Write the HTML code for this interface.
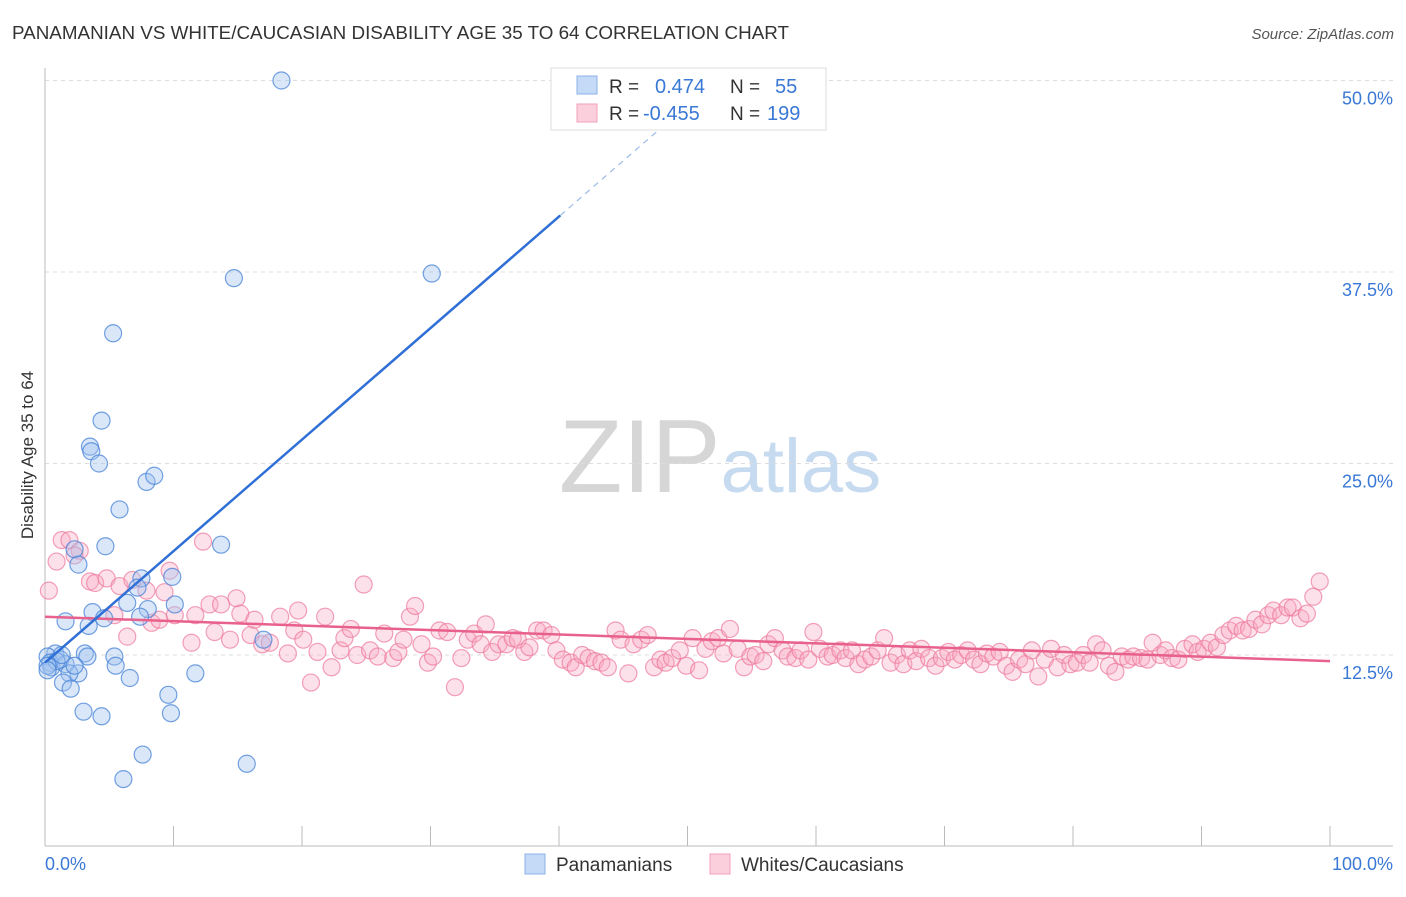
<!DOCTYPE html>
<html><head><meta charset="utf-8"><style>
body{margin:0;background:#fff;font-family:"Liberation Sans",sans-serif;}
svg text{font-family:"Liberation Sans",sans-serif;}
</style></head><body>
<svg id="chart" width="1406" height="892" viewBox="0 0 1406 892" xmlns="http://www.w3.org/2000/svg">
<text x="12" y="39" font-size="18" fill="#333" textLength="777" lengthAdjust="spacingAndGlyphs">PANAMANIAN VS WHITE/CAUCASIAN DISABILITY AGE 35 TO 64 CORRELATION CHART</text>
<text x="1394" y="39" font-size="15" fill="#555" text-anchor="end" font-style="italic">Source: ZipAtlas.com</text>
<text x="720" y="492" font-size="104" text-anchor="middle" fill="#ddd" font-family="Liberation Serif"><tspan fill="#d6d6d6">ZIP</tspan><tspan fill="#c6daf0" font-family="Liberation Sans" font-size="76">atlas</tspan></text>
<text transform="translate(33,455) rotate(-90)" font-size="17" fill="#333" text-anchor="middle">Disability Age 35 to 64</text>
<g id="grid"></g><g id="axes"></g><g id="marks"></g>
<g>
<rect x="551" y="68" width="275" height="62" fill="#fff" stroke="#ddd"/>
<rect x="577" y="76" width="20" height="18" fill="#c5daf6" stroke="#8bb0e8"/>
<text x="609" y="93" font-size="19" fill="#333">R =</text><text x="655" y="93" font-size="20" fill="#3a78d6">0.474</text>
<text x="730" y="93" font-size="19" fill="#333">N =</text><text x="775" y="93" font-size="20" fill="#3a78d6">55</text>
<rect x="577" y="104" width="20" height="18" fill="#fbcfdc" stroke="#f0a0b8"/>
<text x="609" y="120" font-size="19" fill="#333">R =</text><text x="643" y="120" font-size="20" fill="#3a78d6">-0.455</text>
<text x="730" y="120" font-size="19" fill="#333">N =</text><text x="767" y="120" font-size="20" fill="#3a78d6">199</text>
</g>
<g>
<rect x="525" y="854" width="20" height="20" fill="#c5daf6" stroke="#8bb0e8"/>
<text x="556" y="871" font-size="19" fill="#333">Panamanians</text>
<rect x="710" y="854" width="20" height="20" fill="#fbcfdc" stroke="#f0a0b8"/>
<text x="741" y="871" font-size="19" fill="#333">Whites/Caucasians</text>
</g>
</svg>
<script>
const blueX=[18.4,14.7,30.1,5.3,4.4,3.5,3.6,4.2,7.9,8.5,5.8,4.7,13.7,2.3,2.6,7.5,9.9,7.2,6.4,8.0,3.7,1.6,3.4,4.6,7.4,10.1,17.0,3.1,3.3,0.8,0.2,0.4,1.2,0.5,1.6,2.6,1.9,1.4,2.0,5.4,5.5,6.6,11.7,9.6,9.8,3.0,4.4,7.6,15.7,6.1,0.9,1.3,0.2,2.3,0.2];
const blueY=[50.0,37.1,37.4,33.5,27.8,26.1,25.8,25.0,23.8,24.2,22.0,19.6,19.7,19.4,18.4,17.5,17.6,16.9,15.9,15.5,15.3,14.7,14.4,14.9,15.0,15.8,13.5,12.6,12.4,12.6,12.4,12.0,12.2,11.7,11.9,11.3,11.3,10.7,10.3,12.4,11.8,11.0,11.3,9.9,8.7,8.8,8.5,6.0,5.4,4.4,12.1,12.5,11.8,11.8,11.5];
const pinkX=[0.3,0.9,1.3,1.9,2.7,2.3,3.5,3.9,4.8,5.4,5.8,6.4,6.8,7.9,8.3,8.9,9.3,9.7,10.1,11.4,11.7,12.3,12.8,13.2,13.7,14.4,14.9,15.2,16.0,16.3,16.9,17.5,18.3,18.9,19.4,19.7,20.1,20.7,21.2,21.8,22.3,23.0,23.3,23.8,24.3,24.8,25.3,25.9,26.4,27.1,27.5,27.9,28.4,28.8,29.3,29.8,30.2,30.7,31.3,31.9,32.4,32.9,33.4,33.9,34.3,34.8,35.3,35.9,36.4,36.8,37.3,37.7,38.3,38.8,39.4,39.8,40.3,40.9,41.3,41.8,42.3,42.8,43.3,43.8,44.4,44.8,45.4,45.8,46.4,46.9,47.4,47.9,48.3,48.8,49.4,49.9,50.4,50.9,51.4,51.9,52.4,52.8,53.3,53.9,54.4,54.9,55.3,55.9,56.3,56.8,57.4,57.8,58.4,58.8,59.4,59.8,60.3,60.9,61.3,61.9,62.3,62.8,63.3,63.8,64.3,64.8,65.3,65.8,66.3,66.8,67.3,67.8,68.2,68.8,69.3,69.8,70.3,70.8,71.3,71.8,72.3,72.8,73.3,73.8,74.3,74.8,75.3,75.8,76.3,76.8,77.3,77.8,78.3,78.8,79.3,79.8,80.3,80.8,81.3,81.8,82.3,82.8,83.3,83.8,84.3,84.7,85.3,85.8,86.2,86.8,87.2,87.7,88.2,88.7,89.3,89.7,90.2,90.7,91.2,91.7,92.2,92.7,93.2,93.7,94.2,94.7,95.2,95.6,96.2,96.7,97.1,97.7,98.2,98.7,99.2];
const pinkY=[16.7,18.6,20.0,20.0,19.3,19.0,17.3,17.2,17.5,15.1,17.0,13.7,17.4,16.7,14.6,14.8,16.6,18.0,15.1,13.3,15.1,19.9,15.8,14.0,15.8,13.5,16.2,15.2,13.8,14.8,13.2,13.3,15.0,12.6,14.1,15.4,13.5,10.7,12.7,15.0,11.7,12.8,13.6,14.2,12.5,17.1,12.8,12.4,13.9,12.3,12.7,13.5,15.0,15.7,13.2,12.0,12.4,14.1,14.0,10.4,12.3,13.5,13.9,13.2,14.5,12.7,13.2,13.2,13.6,13.5,12.7,13.0,14.1,14.1,13.8,12.8,12.2,12.0,11.7,12.5,12.3,12.1,12.0,11.7,14.1,13.5,11.3,13.2,13.5,13.8,11.7,12.2,12.0,12.3,12.8,11.8,13.6,11.5,12.9,13.4,13.6,12.6,14.2,12.9,11.7,12.4,12.5,12.1,13.2,13.6,12.8,12.4,12.3,12.8,12.2,14.0,12.9,12.4,12.5,12.8,12.3,12.8,11.9,12.2,12.4,12.8,13.6,12.0,12.5,11.9,12.8,12.1,12.9,12.3,11.8,12.3,12.7,12.2,12.5,12.8,12.2,11.9,12.6,12.4,12.7,11.8,11.4,12.2,11.9,12.8,11.1,12.2,12.9,11.7,12.5,11.9,12.0,12.5,12.0,13.2,12.8,11.8,11.4,12.4,12.2,12.4,12.3,12.2,13.3,12.5,12.8,12.3,12.2,12.9,13.2,12.7,12.9,13.3,13.0,13.8,14.1,14.4,14.1,14.2,14.8,14.5,15.1,15.4,15.1,15.6,15.6,14.9,15.2,16.3,17.3];
const yTicks=[12.5,25.0,37.5,50.0];
const xTickVals=[0,10,20,30,40,50,60,70,80,90,100];
const blueIntercept=12.0, blueSlope=0.728, blueSolidEnd=40.1, blueDashEnd=48;
const pinkIntercept=15.0, pinkEnd=12.1;

const NS="http://www.w3.org/2000/svg";
const X=v=>45+v*12.85;
const Y=v=>846.5-v*15.32;
function mk(tag,attrs,parent){const e=document.createElementNS(NS,tag);for(const k in attrs)e.setAttribute(k,attrs[k]);document.getElementById(parent).appendChild(e);return e;}

yTicks.forEach(t=>{
  const l=mk('line',{x1:45,x2:1393,y1:Y(t),y2:Y(t),stroke:'#ddd','stroke-dasharray':'4,4'},'grid');
  
  
  const tx=mk('text',{x:1393,y:Y(t)+24,'font-size':18,fill:'#3a78d6','text-anchor':'end'},'grid');
  tx.textContent=t.toFixed(1)+'%';
  
  
});
const ya=mk('line',{x1:45,x2:45,y1:68,y2:846,stroke:'#bbb'},'axes');


const xa=mk('line',{x1:45,x2:1393,y1:846,y2:846,stroke:'#bbb'},'axes');


xTickVals.forEach(v=>{
  const t=mk('line',{x1:X(v),x2:X(v),y1:826,y2:846,stroke:'#bbb'},'axes');
  
  
});
[[0,'0.0%','start',45],[100,'100.0%','end',1393]].forEach(a=>{
  const t=mk('text',{x:a[3],y:870,'font-size':18,fill:'#3a78d6','text-anchor':a[2]},'axes');
  t.textContent=a[1];
  
  
});
pinkX.forEach((x,i)=>{
  const c=mk('circle',{cx:X(x),cy:Y(pinkY[i]),r:8.5,fill:'rgba(248,170,195,0.35)',stroke:'rgba(236,120,155,0.7)','stroke-width':1.2},'marks');
  
  
});
blueX.forEach((x,i)=>{
  const c=mk('circle',{cx:X(x),cy:Y(blueY[i]),r:8.5,fill:'rgba(160,195,240,0.4)',stroke:'rgba(70,130,215,0.75)','stroke-width':1.2},'marks');
  
  
});
const pl=mk('line',{x1:X(0),y1:Y(pinkIntercept),x2:X(100),y2:Y(pinkEnd),stroke:'#e8608c','stroke-width':2.5},'marks');


const bl=mk('line',{x1:X(0),y1:Y(blueIntercept),x2:X(blueSolidEnd),y2:Y(blueIntercept+blueSlope*blueSolidEnd),stroke:'#2f6fd6','stroke-width':2.5},'marks');


const bd=mk('line',{x1:X(blueSolidEnd),y1:Y(blueIntercept+blueSlope*blueSolidEnd),x2:X(blueDashEnd),y2:Y(blueIntercept+blueSlope*blueDashEnd),stroke:'#9bbbe8','stroke-width':1.2,'stroke-dasharray':'6,5'},'marks');


</script>
</body></html>
